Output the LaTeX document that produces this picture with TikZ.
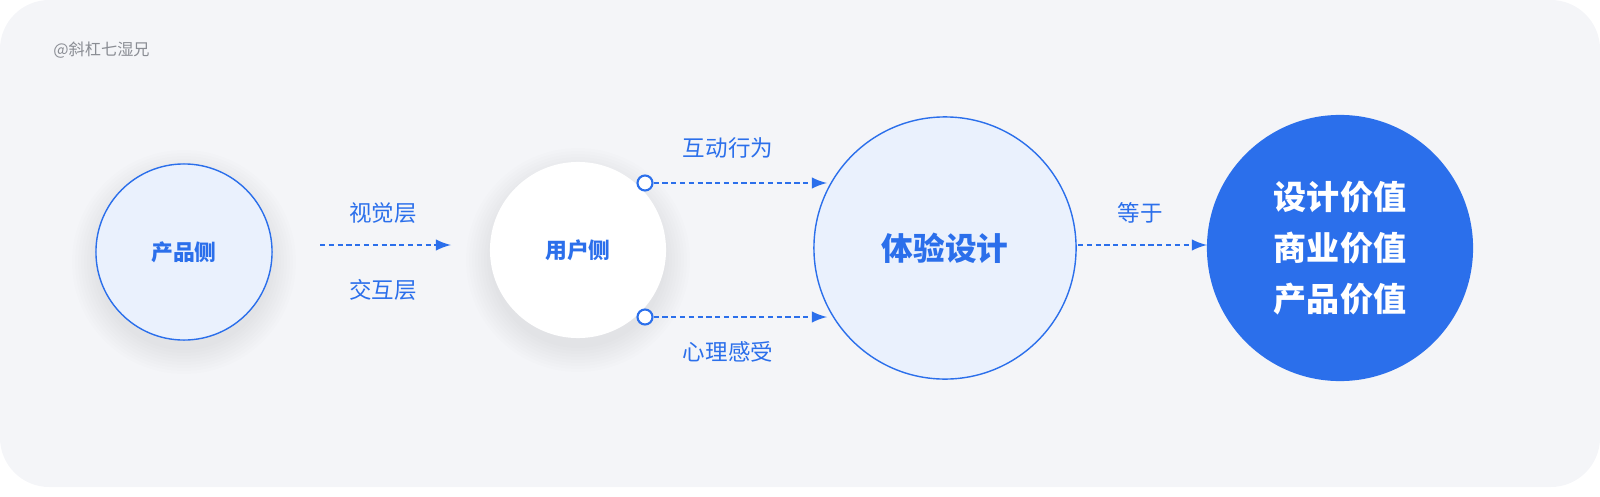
\documentclass[tikz,border=0pt]{standalone}
\usepackage{fontspec}
\usepackage{tikz}
\newfontfamily\cjk{Noto Sans CJK SC}
\definecolor{bluemain}{HTML}{2B6FEB}
\definecolor{bluelight}{HTML}{EAF1FD}
\definecolor{bggray}{HTML}{F4F5F8}
\definecolor{markgray}{HTML}{8A8D94}

\begin{document}
\begin{tikzpicture}[x=0.01cm, y=-0.01cm,
                    font=\cjk,
                    ring/.style={draw=bluemain, line width=0.4pt, circle, inner sep=0},
                    flow/.style={draw=bluemain, dashed, dash pattern=on 1.5pt off 1pt, -latex, line width=0.5pt},
                    tag/.style={text=bluemain, font=\cjk\fontsize{6.4}{7}\selectfont},
                    dot/.style={draw=bluemain, fill=white, circle, line width=0.6pt, inner sep=0, minimum size=0.15cm}]
    \useasboundingbox (0,0) rectangle (1600,497);
    \fill [bggray, rounded corners=14pt] (0,0) rectangle (1600,487);
    \node [anchor=west, text=markgray, font=\cjk\fontsize{4.6}{5}\selectfont] (mark) at (41,50) {@斜杠七湿兄};

    % soft shadows under the two small circles
    \foreach \cx/\cy in {184/262, 578/260}
        \foreach \r in {88,91,...,112}
            \fill [black, opacity=0.006] (\cx,\cy) circle [radius=\r];

    \node (product) [ring, fill=bluelight, minimum size=1.76cm,
          text=bluemain, font=\cjk\bfseries\fontsize{6.2}{7}\selectfont] at (184,252) {产品侧};
    \node (user) [circle, fill=white, inner sep=0, minimum size=1.76cm,
          text=bluemain, font=\cjk\bfseries\fontsize{6.2}{7}\selectfont] at (578,250) {用户侧};
    \node (design) [ring, fill=bluelight, minimum size=2.62cm,
          text=bluemain, font=\cjk\bfseries\fontsize{9}{10}\selectfont] at (945,248) {体验设计};
    \node (value) [circle, fill=bluemain, inner sep=0, minimum size=2.66cm, align=center,
          text=white, font=\cjk\bfseries\fontsize{9.4}{14.6}\selectfont] at (1340,248) {设计价值\\商业价值\\产品价值};

    \node (up) [dot] at (645,183) {};
    \node (down) [dot] at (645,317) {};
    \coordinate (a1) at (320,245);
    \coordinate (a2) at (451,245);
    \coordinate (b1) at (827,183);
    \coordinate (c1) at (827,317);
    \coordinate (d1) at (1078,245);
    \coordinate (d2) at (1207,245);

    \draw [flow] (a1) -- (a2);
    \draw [flow] (up) -- (b1);
    \draw [flow] (down) -- (c1);
    \draw [flow] (d1) -- (d2);

    \node (visual) [tag] at (383,213) {视觉层};
    \node (inter) [tag] at (383,290) {交互层};
    \node (act) [tag] at (728,148) {互动行为};
    \node (mind) [tag] at (728,352) {心理感受};
    \node (equal) [tag] at (1140,213) {等于};
\end{tikzpicture}
\end{document}
